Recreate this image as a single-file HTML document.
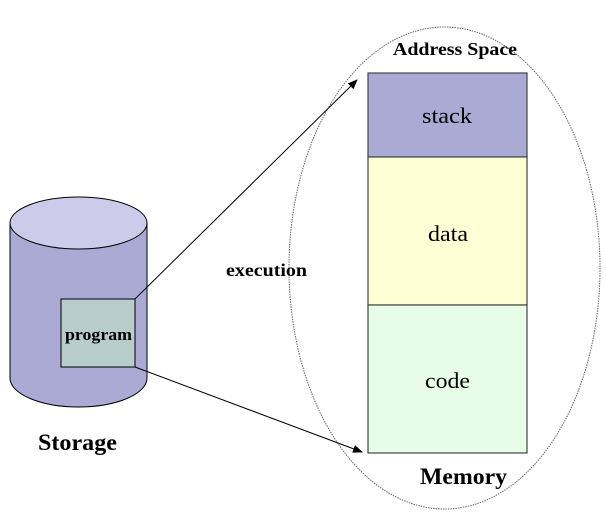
<!DOCTYPE html>
<html><head><style>body{margin:0;background:#fff}svg{display:block}</style></head><body>
<svg width="606" height="528" xmlns="http://www.w3.org/2000/svg" font-family="Liberation Serif, serif">
<defs><marker id="a" markerWidth="10" markerHeight="8" refX="9" refY="4" orient="auto" markerUnits="userSpaceOnUse"><path d="M0,0 L10,4 L0,8 Z" fill="#000"/></marker></defs>
<ellipse cx="444.5" cy="268" rx="155.5" ry="241" fill="none" stroke="#666" stroke-width="1" stroke-dasharray="1.5,1"/>
<rect x="368" y="73" width="159" height="84" fill="#aaaad4" stroke="#444" stroke-width="1.2"/>
<rect x="368" y="157" width="159" height="148" fill="#ffffd6" stroke="#444" stroke-width="1.2"/>
<rect x="368" y="305" width="159" height="148" fill="#e8fde8" stroke="#444" stroke-width="1.2"/>
<text x="422" y="123" font-size="22" textLength="50" lengthAdjust="spacingAndGlyphs">stack</text>
<text x="428" y="241" font-size="22" textLength="40" lengthAdjust="spacingAndGlyphs">data</text>
<text x="425" y="388" font-size="22" textLength="45" lengthAdjust="spacingAndGlyphs">code</text>
<text x="393" y="55" font-size="18" font-weight="bold" textLength="124" lengthAdjust="spacingAndGlyphs">Address Space</text>
<text x="420" y="484" font-size="23" font-weight="bold" textLength="87" lengthAdjust="spacingAndGlyphs">Memory</text>
<path d="M10,223 L10,378 A68.5,29 0 0 0 147,378 L147,223 Z" fill="#aaaad4" stroke="#000" stroke-width="1"/>
<ellipse cx="78.5" cy="223" rx="68.5" ry="26" fill="#ccccea" stroke="#000" stroke-width="1"/>
<rect x="61" y="299" width="74" height="68" fill="#b8cccc" stroke="#000" stroke-width="1"/>
<text x="65" y="340" font-size="17" font-weight="bold" textLength="67" lengthAdjust="spacingAndGlyphs">program</text>
<text x="38" y="450" font-size="23" font-weight="bold" textLength="79" lengthAdjust="spacingAndGlyphs">Storage</text>
<text x="226" y="276" font-size="18" font-weight="bold" textLength="81" lengthAdjust="spacingAndGlyphs">execution</text>
<line x1="135" y1="299" x2="357" y2="80" stroke="#000" stroke-width="1" marker-end="url(#a)"/>
<line x1="135" y1="367" x2="362" y2="452" stroke="#000" stroke-width="1" marker-end="url(#a)"/>
</svg>
</body></html>
